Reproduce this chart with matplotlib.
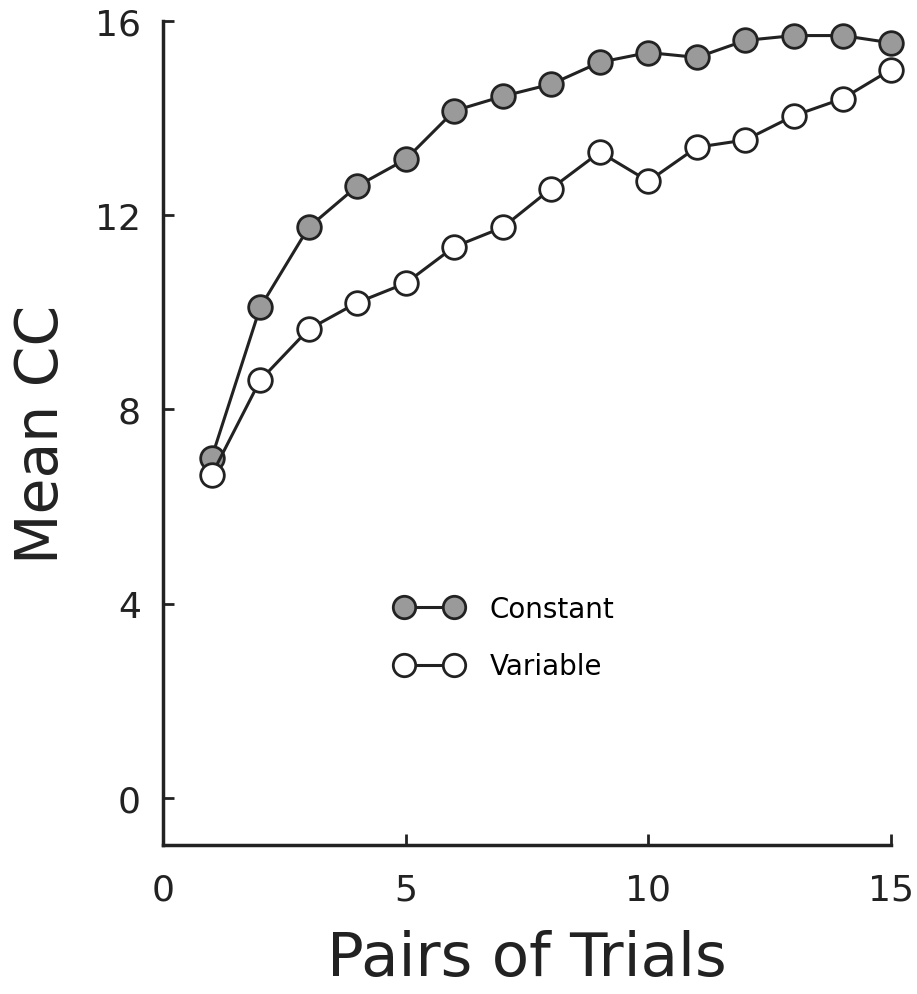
import matplotlib.pyplot as plt

pairs = list(range(1, 16))
constant = [7.0, 10.1, 11.75, 12.6, 13.15, 14.15, 14.45, 14.7, 15.15, 15.35, 15.25, 15.6, 15.7, 15.7, 15.55]
variable = [6.65, 8.6, 9.65, 10.2, 10.6, 11.35, 11.75, 12.55, 13.3, 12.7, 13.4, 13.55, 14.05, 14.4, 15.0]

xticks = [0, 5, 10, 15]
yticks = [0, 4, 8, 12, 16]

plt.rcParams['font.family'] = ['DejaVu Sans']

fig = plt.figure(figsize=(9.17, 9.95), dpi=100)
ax = fig.add_axes([0.1778, 0.1497, 0.7939, 0.8282])

ax.plot(pairs, constant, color="#222222", lw=2.2, marker="o", ms=17,
        mfc="#9a9a9a", mec="#222222", mew=2, label="Constant", clip_on=False)
ax.plot(pairs, variable, color="#222222", lw=2.2, marker="o", ms=17,
        mfc="white", mec="#222222", mew=2, label="Variable", clip_on=False)

ax.set_xlim(0, 15)
ax.set_ylim(-0.97, 16)
ax.set_xticks(xticks)
ax.set_yticks(yticks)
ax.tick_params(direction="in", length=8, width=2, labelsize=26, colors="#222222")
ax.tick_params(axis="x", pad=20)
ax.tick_params(axis="y", pad=16)
for s in ["top", "right"]:
    ax.spines[s].set_visible(False)
for s in ["left", "bottom"]:
    ax.spines[s].set_linewidth(2.5)
    ax.spines[s].set_color("#222222")

ax.set_xlabel("Pairs of Trials", fontsize=44, labelpad=16, color="#222222")
ax.set_ylabel("Mean CC", fontsize=42, labelpad=18, color="#222222")

ax.legend(loc="upper left", bbox_to_anchor=(0.404, 0.426), bbox_transform=fig.transFigure,
          frameon=False, numpoints=2, handlelength=2.4, fontsize=20, labelspacing=1.05,
          handletextpad=1.0, markerscale=0.95)

fig.savefig("out.png", dpi=100)
